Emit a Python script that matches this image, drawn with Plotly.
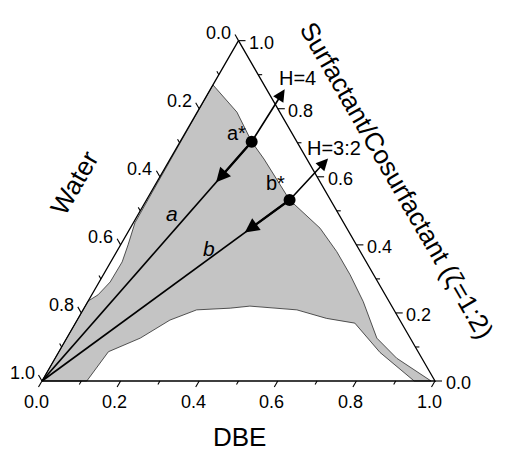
import math
import plotly.graph_objects as go

# Compositions are mass fractions: S = surfactant/cosurfactant (zeta = 1:2),
# D = DBE; water makes up the remainder (W = 1 - S - D).

# Boundary of the shaded single-phase region, traced from the pure-water corner
region_surf = [0.000, 0.235, 0.253, 0.291, 0.350, 0.400, 0.465, 0.870, 0.790, 0.703,
               0.652, 0.532, 0.449, 0.380, 0.312, 0.233, 0.126, 0.067, 0.000, 0.000,
               0.084, 0.170, 0.184, 0.209, 0.220, 0.214, 0.209, 0.179, 0.126, 0.086,
               0.000]
region_dbe = [0.000, 0.000, 0.016, 0.028, 0.029, 0.019, 0.004, 0.000, 0.101, 0.182,
              0.239, 0.364, 0.483, 0.560, 0.628, 0.701, 0.789, 0.869, 0.990, 0.947,
              0.818, 0.711, 0.632, 0.544, 0.419, 0.372, 0.289, 0.236, 0.187, 0.126,
              0.114]

# Water-dilution paths a and b (constant surfactant : DBE ratio H)
path_names = ["a", "b"]
path_start_names = ["a*", "b*"]
path_ratio_labels = ["H=4", "H=3:2"]
start_surf = [0.703, 0.532]      # a*, b*
start_dbe = [0.182, 0.364]
mid_surf = [0.584, 0.436]        # arrow head pointing towards the water corner
mid_dbe = [0.151, 0.298]
outer_surf = [0.857, 0.654]      # arrow head pointing away from the water corner
outer_dbe = [0.189, 0.401]

# Axis ticks
tick_values = [0.0, 0.1, 0.2, 0.3, 0.4, 0.5, 0.6, 0.7, 0.8, 0.9, 1.0]
label_values = [0.0, 0.2, 0.4, 0.6, 0.8, 1.0]
tick_labels = ["0.0", "0.2", "0.4", "0.6", "0.8", "1.0"]

FONT = "Liberation Sans, Arial, sans-serif"
SQ = math.sqrt(3) / 2
PX = 1 / 393.0          # one screen pixel in plot units (edge length = 1)


def to_xy(s, d):
    """Ternary (surfactant, DBE) -> cartesian; water corner at the origin."""
    return d + s / 2, s * SQ


fig = go.Figure()

# shaded region
pts = [to_xy(s, d) for s, d in zip(region_surf, region_dbe)]
fig.add_trace(go.Scatter(
    x=[p[0] for p in pts] + [pts[0][0]], y=[p[1] for p in pts] + [pts[0][1]],
    mode="lines", fill="toself", fillcolor="#c4c4c4",
    line=dict(color="#2a2a2a", width=0.8), hoverinfo="skip"))

# triangle frame
corners = [to_xy(0, 0), to_xy(1, 0), to_xy(0, 1), to_xy(0, 0)]
fig.add_trace(go.Scatter(
    x=[c[0] for c in corners], y=[c[1] for c in corners], mode="lines",
    line=dict(color="black", width=1.3), hoverinfo="skip"))

# tick marks on the three edges
tx, ty = [], []
for v in tick_values:
    major = any(abs(v - m) < 1e-9 for m in label_values)
    L = (7 if major else 4) * PX
    # DBE (bottom edge), ticks run parallel to the left edge
    bx, by = to_xy(0, v)
    tx += [bx, bx - 0.5 * L, None]
    ty += [by, by - SQ * L, None]
    # water (left edge), ticks run parallel to the right edge
    lx, ly = to_xy(1 - v, 0)
    tx += [lx, lx - 0.5 * L, None]
    ty += [ly, ly + SQ * L, None]
    # surfactant (right edge), horizontal ticks
    rx, ry = to_xy(v, 1 - v)
    tx += [rx, rx + L, None]
    ty += [ry, ry, None]
fig.add_trace(go.Scatter(x=tx, y=ty, mode="lines",
                         line=dict(color="black", width=1.1), hoverinfo="skip"))

# tick labels
for v, lab in zip(label_values, tick_labels):
    bx, by = to_xy(0, v)
    fig.add_annotation(x=bx, y=by, text=lab, showarrow=False, xanchor="center",
                       yanchor="middle", xshift=-6, yshift=-20.7, borderpad=0,
                       font=dict(family=FONT, size=18, color="black"))
    lx, ly = to_xy(1 - v, 0)
    fig.add_annotation(x=lx, y=ly, text=lab, showarrow=False, xanchor="right",
                       yanchor="middle", xshift=-6.5, yshift=8, borderpad=0,
                       font=dict(family=FONT, size=18, color="black"))
    rx, ry = to_xy(v, 1 - v)
    fig.add_annotation(x=rx, y=ry, text=lab, showarrow=False, xanchor="left",
                       yanchor="middle", xshift=9.5, yshift=-2, borderpad=0,
                       font=dict(family=FONT, size=18, color="black"))

# axis titles
mx, my = to_xy(0, 0.5)
fig.add_annotation(x=mx, y=my, text="DBE", showarrow=False, xanchor="center",
                   yanchor="middle", xshift=1, yshift=-56, borderpad=0,
                   font=dict(family=FONT, size=26, color="black"))
mx, my = to_xy(0.5, 0)
fig.add_annotation(x=mx, y=my, text="Water", showarrow=False, xanchor="center",
                   yanchor="middle", textangle=-60, xshift=-66, yshift=28,
                   borderpad=0, font=dict(family=FONT, size=26, color="black"))
mx, my = to_xy(0.5, 0.5)
fig.add_annotation(x=mx, y=my, text="Surfactant/Cosurfactant (\u03b6=1:2)",
                   showarrow=False, xanchor="center", yanchor="middle",
                   textangle=60, xshift=60, yshift=31, borderpad=0,
                   font=dict(family=FONT, size=26, color="black"))

# dilution paths
for i in range(2):
    sx, sy = to_xy(start_surf[i], start_dbe[i])
    hx, hy = to_xy(mid_surf[i], mid_dbe[i])
    ox, oy = to_xy(outer_surf[i], outer_dbe[i])
    fig.add_trace(go.Scatter(x=[0, sx], y=[0, sy], mode="lines",
                             line=dict(color="black", width=1.7), hoverinfo="skip"))
    fig.add_annotation(x=hx, y=hy, ax=sx, ay=sy, xref="x", yref="y",
                       axref="x", ayref="y", text="", showarrow=True,
                       arrowhead=2, arrowsize=1.2, arrowwidth=2.4,
                       arrowcolor="black", standoff=0, startstandoff=0)
    fig.add_annotation(x=ox, y=oy, ax=sx, ay=sy, xref="x", yref="y",
                       axref="x", ayref="y", text="", showarrow=True,
                       arrowhead=2, arrowsize=1.5, arrowwidth=1.6,
                       arrowcolor="black", standoff=0, startstandoff=0)

fig.add_trace(go.Scatter(
    x=[to_xy(s, d)[0] for s, d in zip(start_surf, start_dbe)],
    y=[to_xy(s, d)[1] for s, d in zip(start_surf, start_dbe)],
    mode="markers", marker=dict(color="black", size=12), hoverinfo="skip"))

# path labels
star_shift = [(-15, 8.5), (-14, 16.5)]
for i in range(2):
    sx, sy = to_xy(start_surf[i], start_dbe[i])
    fig.add_annotation(x=sx, y=sy, text=path_start_names[i], showarrow=False,
                       xanchor="center", yanchor="middle",
                       xshift=star_shift[i][0], yshift=star_shift[i][1],
                       font=dict(family=FONT, size=20, color="black"))
    ox, oy = to_xy(outer_surf[i], outer_dbe[i])
    fig.add_annotation(x=ox, y=oy, text=path_ratio_labels[i], showarrow=False,
                       xanchor="center", yanchor="middle",
                       xshift=[13, 6][i], yshift=[11.5, 10][i],
                       font=dict(family=FONT, size=20, color="black"))

name_pos = [(0.49, 0.49 * start_dbe[0] / start_surf[0]),
            (0.385, 0.385 * start_dbe[1] / start_surf[1])]
for i in range(2):
    nx, ny = to_xy(*name_pos[i])
    fig.add_annotation(x=nx, y=ny, text="<i>%s</i>" % path_names[i],
                       showarrow=False, xanchor="center", yanchor="middle",
                       xshift=[-16, -12][i], yshift=1,
                       font=dict(family=FONT, size=21, color="black"))

fig.update_layout(
    width=505, height=451, autosize=False,
    margin=dict(l=0, r=0, t=0, b=0),
    paper_bgcolor="white", plot_bgcolor="white",
    showlegend=False,
    xaxis=dict(range=[-42 * PX, 463 * PX], visible=False, fixedrange=True),
    yaxis=dict(range=[-70 * PX, 381 * PX], visible=False, fixedrange=True),
)

fig.write_html("out.html")
